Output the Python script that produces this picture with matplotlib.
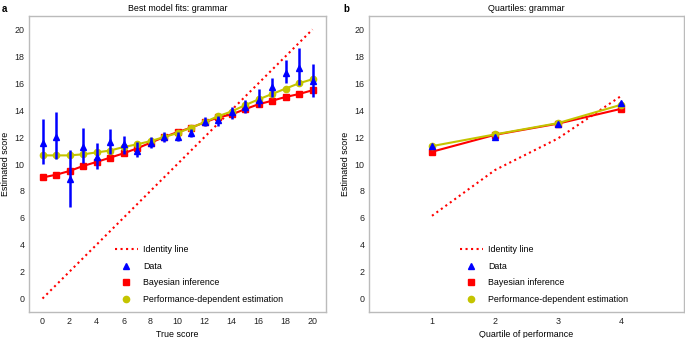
import matplotlib
matplotlib.use("Agg")
import matplotlib.pyplot as plt
import numpy as np
from matplotlib.lines import Line2D

plt.rcParams['font.family'] = ['Liberation Sans', 'DejaVu Sans']

# Panel a data
true_score = list(range(0, 21))
identity = list(range(0, 21))
data_mean = [11.58, 12.0, 8.89, 11.28, 10.5, 11.65, 11.46, 10.99, 11.53, 11.98, 12.0,
             12.3, 13.1, 13.26, 13.83, 14.25, 14.79, 15.73, 16.79, 17.16, 16.2]
data_upper = [13.38, 13.83, 11.04, 12.64, 11.53, 12.57, 12.07, 11.65, 11.98, 12.35, 12.4,
              12.6, 13.5, 13.6, 14.25, 14.74, 15.6, 16.4, 17.7, 18.64, 17.46]
data_lower = [10.0, 10.35, 6.84, 10.05, 9.6, 10.74, 10.74, 10.5, 11.16, 11.6, 11.7,
              12.0, 12.8, 12.8, 13.38, 13.8, 14.2, 15.0, 16.0, 15.85, 15.0]
bayes = [9.0, 9.2, 9.48, 9.85, 10.15, 10.47, 10.79, 11.16, 11.58, 12.0, 12.37,
         12.7, 13.09, 13.46, 13.68, 14.07, 14.44, 14.7, 14.98, 15.2, 15.48]
perf = [10.64, 10.64, 10.64, 10.72, 10.86, 11.0, 11.26, 11.46, 11.7, 12.0, 12.3,
        12.7, 13.1, 13.55, 13.9, 14.37, 14.8, 15.2, 15.6, 16.0, 16.3]

# Panel b data
quartiles = [1, 2, 3, 4]
q_identity = [6.15, 9.55, 11.9, 15.05]
q_data = [11.36, 12.0, 12.94, 14.5]
q_bayes = [10.91, 12.17, 13.0, 14.1]
q_perf = [11.33, 12.2, 13.04, 14.4]

legend_labels = ['Identity line', 'Data', 'Bayesian inference', 'Performance-dependent estimation']

RED = '#ff0000'
BLUE = '#0000ff'
YEL = '#c4c400'
SPINE = '#bbbbbb'
FS = 6.4
MS_TRI = 4.8
MS_SQ = 4.8
MS_CIR = 4.5

fig = plt.figure(figsize=(6.85, 3.38), dpi=100)
ax1 = fig.add_axes([29/685, 26/338, 297/685, 296/338])
ax2 = fig.add_axes([369/685, 26/338, 315/685, 296/338])


def style(ax):
    for s in ax.spines.values():
        s.set_color(SPINE)
        s.set_linewidth(1.0)
    ax.tick_params(length=0, labelsize=FS, pad=3.3, colors='#222222')
    ax.set_ylim(-1, 21)
    ax.set_yticks(range(0, 21, 2))


# Panel a
ax1.plot(true_score, identity, ':', color=RED, lw=1.5)
yerr = [np.array(data_mean) - np.array(data_lower), np.array(data_upper) - np.array(data_mean)]
ax1.errorbar(true_score, data_mean, yerr=yerr, fmt='^', color=BLUE, ms=MS_TRI, elinewidth=1.8,
             capsize=0, zorder=5)
ax1.plot(true_score, bayes, '-s', color=RED, lw=1.5, ms=MS_SQ, zorder=3)
ax1.plot(true_score, perf, '-o', color=YEL, lw=1.5, ms=MS_CIR, zorder=4)
style(ax1)
ax1.set_xlim(-1, 21)
ax1.set_xticks(range(0, 21, 2))
ax1.set_xlabel('True score', fontsize=FS, labelpad=3)
ax1.set_ylabel('Estimated score', fontsize=FS)
ax1.yaxis.set_label_coords(-0.064, 0.5)
ax1.set_title('Best model fits: grammar', fontsize=FS, pad=3.5)

# Panel b
ax2.plot(quartiles, q_identity, ':', color=RED, lw=1.5)
ax2.plot(quartiles, q_data, '^', color=BLUE, ms=MS_TRI, zorder=5)
ax2.plot(quartiles, q_bayes, '-s', color=RED, lw=1.5, ms=MS_SQ, zorder=3)
ax2.plot(quartiles, q_perf, '-o', color=YEL, lw=1.5, ms=MS_CIR, zorder=4)
style(ax2)
ax2.set_xlim(0, 5)
ax2.set_xticks(quartiles)
ax2.set_xlabel('Quartile of performance', fontsize=FS, labelpad=3)
ax2.set_ylabel('Estimated score', fontsize=FS)
ax2.yaxis.set_label_coords(-0.060, 0.5)
ax2.set_title('Quartiles: grammar', fontsize=FS, pad=3.5)

handles = [
    Line2D([], [], ls=':', color=RED, lw=1.5),
    Line2D([], [], ls='none', marker='^', color=BLUE, ms=MS_TRI),
    Line2D([], [], ls='none', marker='s', color=RED, ms=MS_SQ),
    Line2D([], [], ls='none', marker='o', color=YEL, ms=MS_CIR),
]
for ax in (ax1, ax2):
    ax.legend(handles, legend_labels, loc='lower left', bbox_to_anchor=(0.262, 0.0),
              frameon=False, fontsize=FS, handlelength=2.6, handletextpad=0.6,
              labelspacing=0.85)

fig.text(2/685, 1 - 9/338, 'a', fontsize=7, fontweight='bold', va='center')
fig.text(343/685, 1 - 9/338, 'b', fontsize=7, fontweight='bold', va='center')

fig.savefig('out.png', dpi=100)
